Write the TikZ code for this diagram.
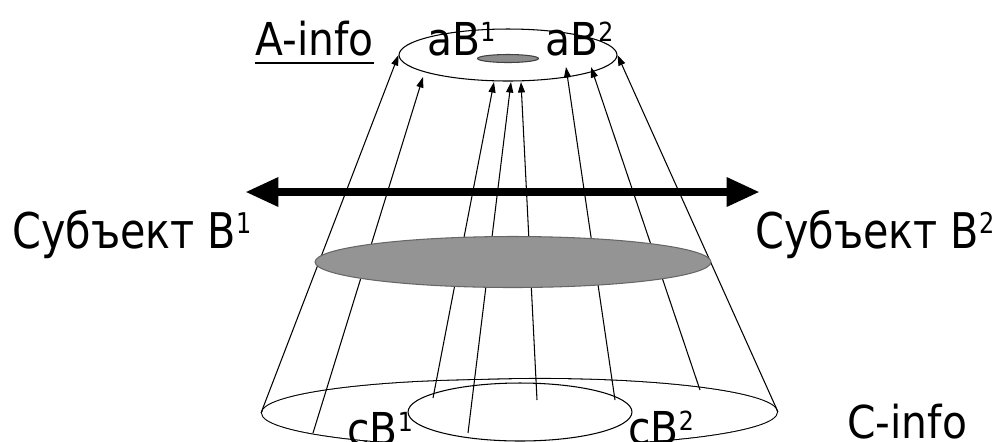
\documentclass[tikz,border=0pt]{standalone}
\usepackage{fontspec}
\setmainfont{DejaVu Sans}[FakeStretch=0.9]
\newfontfamily\narrowfont{DejaVu Sans}[FakeStretch=0.84]
\usetikzlibrary{shapes.geometric, positioning, arrows.meta}

\newcommand{\supnum}[1]{\raisebox{0.3em}{\scalebox{0.58}{#1}}}
\newsavebox{\ulbox}
\newcommand{\ulinetxt}[1]{\sbox{\ulbox}{#1}\rlap{\rule[-0.19em]{\wd\ulbox}{1.1pt}}\usebox{\ulbox}}

\begin{document}
\begin{tikzpicture}[
    x=0.02cm,y=-0.02cm,
    txt/.style={font=\fontsize{25.8}{30}\selectfont, inner sep=0, anchor=base west},
    bigtxt/.style={font=\narrowfont\fontsize{28}{32}\selectfont, inner sep=0, anchor=base west},
    oval/.style={draw, ellipse, inner sep=0, line width=0.6pt, fill=white},
    ovalfill/.style={ellipse, inner sep=0, fill=white},
    greyoval/.style={draw=black!60, fill=black!42, ellipse, inner sep=0, line width=0.6pt},
    ray/.style={line width=0.6pt, -{Triangle[length=6pt, width=4pt]}},
    bar/.style={line width=5.1pt, {Triangle[length=19pt, width=15.5pt]}-{Triangle[length=19pt, width=15.5pt]}}
]
    \useasboundingbox (0,0) rectangle (998,441);

    % --- Bottom ovals (C-info) ---
    \node[oval, line width=1.2pt, minimum width=9.48cm, minimum height=1.32cm] (baseL) at (499,413) {};
    \node[oval, line width=1.2pt, minimum width=9.48cm, minimum height=1.32cm] (baseR) at (540,412) {};
    \node[ovalfill, minimum width=9.48cm, minimum height=1.32cm] (baseLfill) at (499,413) {};
    \node[ovalfill, minimum width=9.48cm, minimum height=1.32cm] (baseRfill) at (540,412) {};
    \node[oval, minimum width=4.48cm, minimum height=1.16cm] (baseM) at (520,412) {};

    % --- Top ring (A-info) ---
    \node[oval, minimum width=4.36cm, minimum height=1.04cm] (ring) at (508,55) {};
    \node[greyoval, draw=black!75, fill=black!45, minimum width=1.22cm, minimum height=0.16cm] (hole) at (508,58.5) {};

    % --- Ray ends ---
    \coordinate (c2) at (313,433);
    \coordinate (c3) at (433,398);
    \coordinate (c4) at (468,433);
    \coordinate (c5) at (537,400);
    \coordinate (c6) at (615,400);
    \coordinate (c7) at (700,390);

    \coordinate (a2) at (423,77);
    \coordinate (a3) at (494,82);
    \coordinate (a4) at (511,82);
    \coordinate (a5) at (521,82);
    \coordinate (a6) at (566,67);
    \coordinate (a7) at (591,67);

    % --- Rays ---
    \draw[ray] (baseL.west) -- (ring.west);
    \draw[ray] (c2) -- (a2);
    \draw[ray] (c3) -- (a3);
    \draw[ray] (c4) -- (a4);
    \draw[ray] (c5) -- (a5);
    \draw[ray] (c6) -- (a6);
    \draw[ray] (c7) -- (a7);
    \draw[ray] (baseR.east) -- (ring.east);

    % --- Grey disc ---
    \node[greyoval, minimum width=7.92cm, minimum height=1.02cm] (disc) at (513,262) {};

    % --- Double arrow ---
    \coordinate (barL) at (245,192);
    \coordinate (barR) at (760,192);
    \draw[bar] (barL) -- (barR);

    % --- Labels ---
    \node[txt] (ainfo) at (255,55) {\ulinetxt{A-info}};
    \node[txt] (ab1) at (427,55) {aB\supnum{1}};
    \node[txt] (ab2) at (545,55) {aB\supnum{2}};
    \node[bigtxt] (subj1) at (12,248) {Субъект B\supnum{1}};
    \node[bigtxt] (subj2) at (755,248) {Субъект B\supnum{2}};
    \node[txt] (cb1) at (347,445) {cB\supnum{1}};
    \node[txt] (cb2) at (628,444) {cB\supnum{2}};
    \node[txt] (cinfo) at (847,438) {C-info};

\end{tikzpicture}
\end{document}
